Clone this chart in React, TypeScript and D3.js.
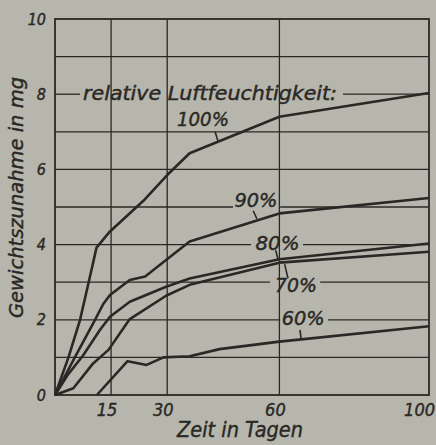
import React from "react";
import * as d3 from "d3";

// Zeit in Tagen / Gewichtszunahme in mg
const rh100: [number, number][] = [
  [0, 0], [3.6, 1.0], [6.7, 2.0], [8.9, 2.95], [11.1, 3.92], [14.7, 4.35],
  [24, 5.2], [30, 5.85], [36, 6.43], [60, 7.4], [100, 8.03],
];
const rh90: [number, number][] = [
  [0, 0], [5.3, 1.0], [10.7, 2.0], [12.9, 2.42], [14.7, 2.66], [20, 3.06],
  [24.1, 3.15], [29.7, 3.59], [36, 4.08], [60, 4.83], [100, 5.24],
];
const rh80: [number, number][] = [
  [0, 0], [3.5, 0.55], [7.5, 1.05], [12, 1.73], [14.7, 2.08], [20, 2.48],
  [29.7, 2.88], [36, 3.1], [60, 3.61], [100, 4.03],
];
const rh70: [number, number][] = [
  [0, 0], [4.9, 0.18], [10.2, 0.84], [14.3, 1.2], [20, 2.02], [29.7, 2.64],
  [36, 2.93], [60, 3.52], [100, 3.81],
];
const rh60: [number, number][] = [
  [11.2, 0], [19.4, 0.9], [24.5, 0.8], [29, 1.0], [36, 1.03], [44, 1.22],
  [60, 1.42], [100, 1.83],
];
const seriesNames = ["100%", "90%", "80%", "70%", "60%"];
const seriesData = [rh100, rh90, rh80, rh70, rh60];

const xTicks = [15, 30, 60, 100];
const yTicks = [0, 2, 4, 6, 8, 10];
const yGrid = [1, 2, 3, 4, 5, 6, 7, 8, 9];

const W = 436;
const H = 445;
const bg = "#b7b6ad";
const ink = "#2a2824";
const font = "'DejaVu Sans Condensed', 'DejaVu Sans', sans-serif";

export default function App() {
  const x = d3.scaleLinear().domain([0, 100]).range([55, 429]);
  const y = d3.scaleLinear().domain([0, 10]).range([395, 19]);
  const line = d3
    .line<[number, number]>()
    .x((d) => x(d[0]))
    .y((d) => y(d[1]));

  // Lücken in den Gitterlinien hinter den Beschriftungen (in Tagen)
  const gaps: Record<number, [number, number]> = {
    8: [6.7, 77],
    5: [47.6, 60.2],
    4: [52.4, 66.3],
    3: [57.5, 70.9],
    2: [60.2, 73],
  };

  // Beschriftung der Kurven: Ort in Datenkoordinaten + Hinweisstrich
  const labels = [
    { t: seriesNames[0], d: 32.6, v: 7.15, w: 52, lead: [[42.8, 7.0], [43.6, 6.75]] },
    { t: seriesNames[1], d: 48.0, v: 5.0, w: 43, lead: [[53.0, 4.9], [54.0, 4.68]] },
    { t: seriesNames[2], d: 53.6, v: 3.85, w: 44, lead: [[59.0, 3.85], [59.6, 3.62]] },
    { t: seriesNames[3], d: 58.8, v: 2.75, w: 42, lead: [[62.3, 3.1], [61.4, 3.48]] },
    { t: seriesNames[4], d: 60.6, v: 1.85, w: 43, lead: [[65.5, 1.73], [65.8, 1.5]] },
  ];

  const txt = { fontFamily: font, fontStyle: "italic", fill: ink, stroke: ink, strokeWidth: 0.4 };

  return (
    <div style={{ position: "fixed", left: 0, top: 0, width: W, height: H, background: bg }}>
      <svg width={W} height={H} style={{ display: "block" }}>
        <rect width={W} height={H} fill={bg} />

        {/* horizontale Gitterlinien */}
        {yGrid.map((v) => {
          const g = gaps[v];
          if (!g) {
            return <line key={v} x1={x(0)} x2={x(100)} y1={y(v)} y2={y(v)} stroke={ink} strokeWidth={1.3} />;
          }
          return (
            <g key={v}>
              <line x1={x(0)} x2={x(g[0])} y1={y(v)} y2={y(v)} stroke={ink} strokeWidth={1.3} />
              <line x1={x(g[1])} x2={x(100)} y1={y(v)} y2={y(v)} stroke={ink} strokeWidth={1.3} />
            </g>
          );
        })}

        {/* vertikale Gitterlinien */}
        {xTicks.slice(0, 3).map((t) => (
          <line key={t} x1={x(t)} x2={x(t)} y1={y(0)} y2={y(10)} stroke={ink} strokeWidth={1.3} />
        ))}

        {/* Rahmen */}
        <rect x={x(0)} y={y(10)} width={x(100) - x(0)} height={y(0) - y(10)} fill="none" stroke={ink} strokeWidth={1.8} />

        {/* Kurven */}
        {seriesData.map((s, i) => (
          <path key={seriesNames[i]} d={line(s) || ""} fill="none" stroke={ink} strokeWidth={2.6} strokeLinejoin="round" />
        ))}

        {/* Kurvenbeschriftungen */}
        <text x={x(7.5)} y={y(8) + 6} fontSize={19} textLength={254} lengthAdjust="spacingAndGlyphs" {...txt}>
          relative Luftfeuchtigkeit:
        </text>
        {labels.map((l) => (
          <g key={l.t}>
            <text x={x(l.d)} y={y(l.v)} fontSize={19} textLength={l.w} lengthAdjust="spacingAndGlyphs" {...txt}>
              {l.t}
            </text>
            <line
              x1={x(l.lead[0][0])}
              y1={y(l.lead[0][1])}
              x2={x(l.lead[1][0])}
              y2={y(l.lead[1][1])}
              stroke={ink}
              strokeWidth={1.6}
            />
          </g>
        ))}

        {/* Achsenbeschriftung */}
        {yTicks.map((t) => (
          <text key={t} x={46} y={y(t)} dy="0.35em" textAnchor="end" fontSize={16} {...txt}>
            {t}
          </text>
        ))}
        {xTicks.map((t) => (
          <text
            key={t}
            x={t === 100 ? 435 : x(t) - 4}
            y={416}
            textAnchor={t === 100 ? "end" : "middle"}
            fontSize={18}
            {...txt}
          >
            {t}
          </text>
        ))}
        <text x={240} y={437} textAnchor="middle" fontSize={21} textLength={126} lengthAdjust="spacingAndGlyphs" {...txt}>
          Zeit in Tagen
        </text>
        <text
          transform={`translate(23,${197.5}) rotate(-90)`}
          textAnchor="middle"
          fontSize={19}
          textLength={241}
          lengthAdjust="spacingAndGlyphs"
          {...txt}
        >
          Gewichtszunahme in mg
        </text>
      </svg>
    </div>
  );
}
